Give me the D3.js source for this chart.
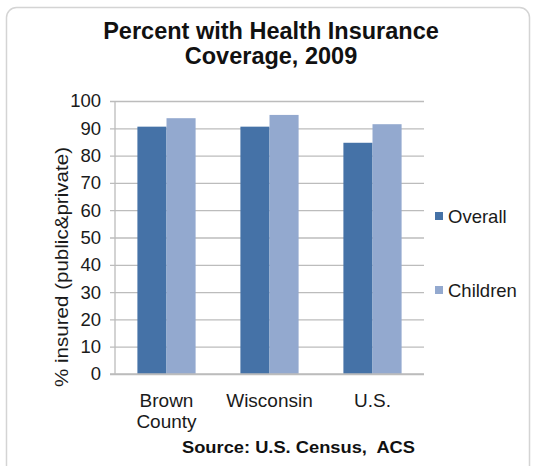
<!DOCTYPE html>
<html><head><meta charset="utf-8">
<script src="https://cdn.jsdelivr.net/npm/d3@7"></script>
<style>body{margin:0;background:#fff;font-family:"Liberation Sans",Arial,sans-serif;}</style>
</head><body><svg id="c" width="534" height="466"></svg>
<script>
const categories = [["Brown","County"],["Wisconsin"],["U.S."]];
const seriesNames = ["Overall","Children"];
const overall = [90.6, 90.6, 84.7];
const children = [93.7, 94.9, 91.5];
const yTicks = [0,10,20,30,40,50,60,70,80,90,100];
const colors = ["#4572A7","#93A9CF"];

const svg = d3.select("#c");
svg.append("rect").attr("x",6.5).attr("y",7.5).attr("width",523).attr("height",480)
  .attr("rx",10).attr("fill","#fff").attr("stroke","#d4d4d4").attr("stroke-width",1.5);

const m = {l:115, r:424, t:101, b:374};
const x0 = d3.scaleBand().domain(d3.range(categories.length)).range([m.l,m.r]).paddingInner(0.435).paddingOuter(0.2175);
const x1 = d3.scaleBand().domain(seriesNames).range([0,x0.bandwidth()]);
const y = d3.scaleLinear().domain([0,100]).range([m.b,m.t]);

const yAxis = d3.axisLeft(y).tickValues(yTicks).tickSize(-(m.r-m.l)).tickSizeOuter(0).tickPadding(14);
const ga = svg.append("g").attr("transform",`translate(${m.l},0)`).call(yAxis);
ga.select(".domain").remove();
ga.selectAll(".tick line").attr("stroke","#bcbcbc").attr("stroke-width",1.3).attr("x1",-5);
ga.selectAll(".tick text").attr("font-size",18.5).attr("fill","#1a1a1a").attr("font-family","Liberation Sans, Arial, sans-serif");

svg.append("line").attr("x1",m.l).attr("x2",m.l).attr("y1",m.t).attr("y2",m.b).attr("stroke","#bcbcbc").attr("stroke-width",1.3);

const data = categories.map((c,i)=>[{s:"Overall",v:overall[i]},{s:"Children",v:children[i]}]);
const groups = svg.append("g").selectAll("g").data(data).join("g")
  .attr("transform",(d,i)=>`translate(${x0(i)},0)`);
groups.selectAll("rect").data(d=>d).join("rect")
  .attr("x",d=>x1(d.s)).attr("width",x1.bandwidth())
  .attr("y",d=>y(d.v)).attr("height",d=>y(0)-y(d.v))
  .attr("fill",(d,j)=>colors[j]);

svg.append("line").attr("x1",m.l-5).attr("x2",m.r).attr("y1",m.b).attr("y2",m.b).attr("stroke","#bcbcbc").attr("stroke-width",1.3);

const cl = svg.append("g").selectAll("text").data(categories).join("text")
  .attr("x",(d,i)=>x0(i)+x0.bandwidth()/2).attr("y",407)
  .attr("text-anchor","middle").attr("font-size",19).attr("fill","#1a1a1a");
cl.selectAll("tspan").data(d=>d).join("tspan")
  .attr("x",function(){return d3.select(this.parentNode).attr("x");})
  .attr("dy",(d,i)=>i===0?0:21).text(d=>d);

svg.append("text").attr("transform","translate(68,267) rotate(-90)")
  .attr("text-anchor","middle").attr("font-size",18).attr("fill","#1a1a1a")
  .attr("textLength",240).attr("lengthAdjust","spacingAndGlyphs")
  .text("% insured (public&private)");

const t = svg.append("text").attr("text-anchor","middle").attr("font-size",23.5).attr("font-weight","bold").attr("fill","#111");
t.append("tspan").attr("x",271).attr("y",39).text("Percent with Health Insurance");
t.append("tspan").attr("x",271).attr("y",64).text("Coverage, 2009");

const lg = svg.append("g").selectAll("g").data(seriesNames).join("g")
  .attr("transform",(d,i)=>`translate(435,${216+i*74})`);
lg.append("rect").attr("x",0).attr("y",-4).attr("width",8).attr("height",8).attr("fill",(d,i)=>colors[i]);
lg.append("text").attr("x",13).attr("y",6.5).attr("font-size",18.5).attr("fill","#1a1a1a").text(d=>d);

svg.append("text").attr("x",298.5).attr("y",453).attr("text-anchor","middle")
  .attr("font-size",17).attr("font-weight","bold").attr("fill","#111")
  .attr("textLength",233).attr("lengthAdjust","spacingAndGlyphs")
  .style("white-space","pre").text("Source: U.S. Census,  ACS");
</script></body></html>
